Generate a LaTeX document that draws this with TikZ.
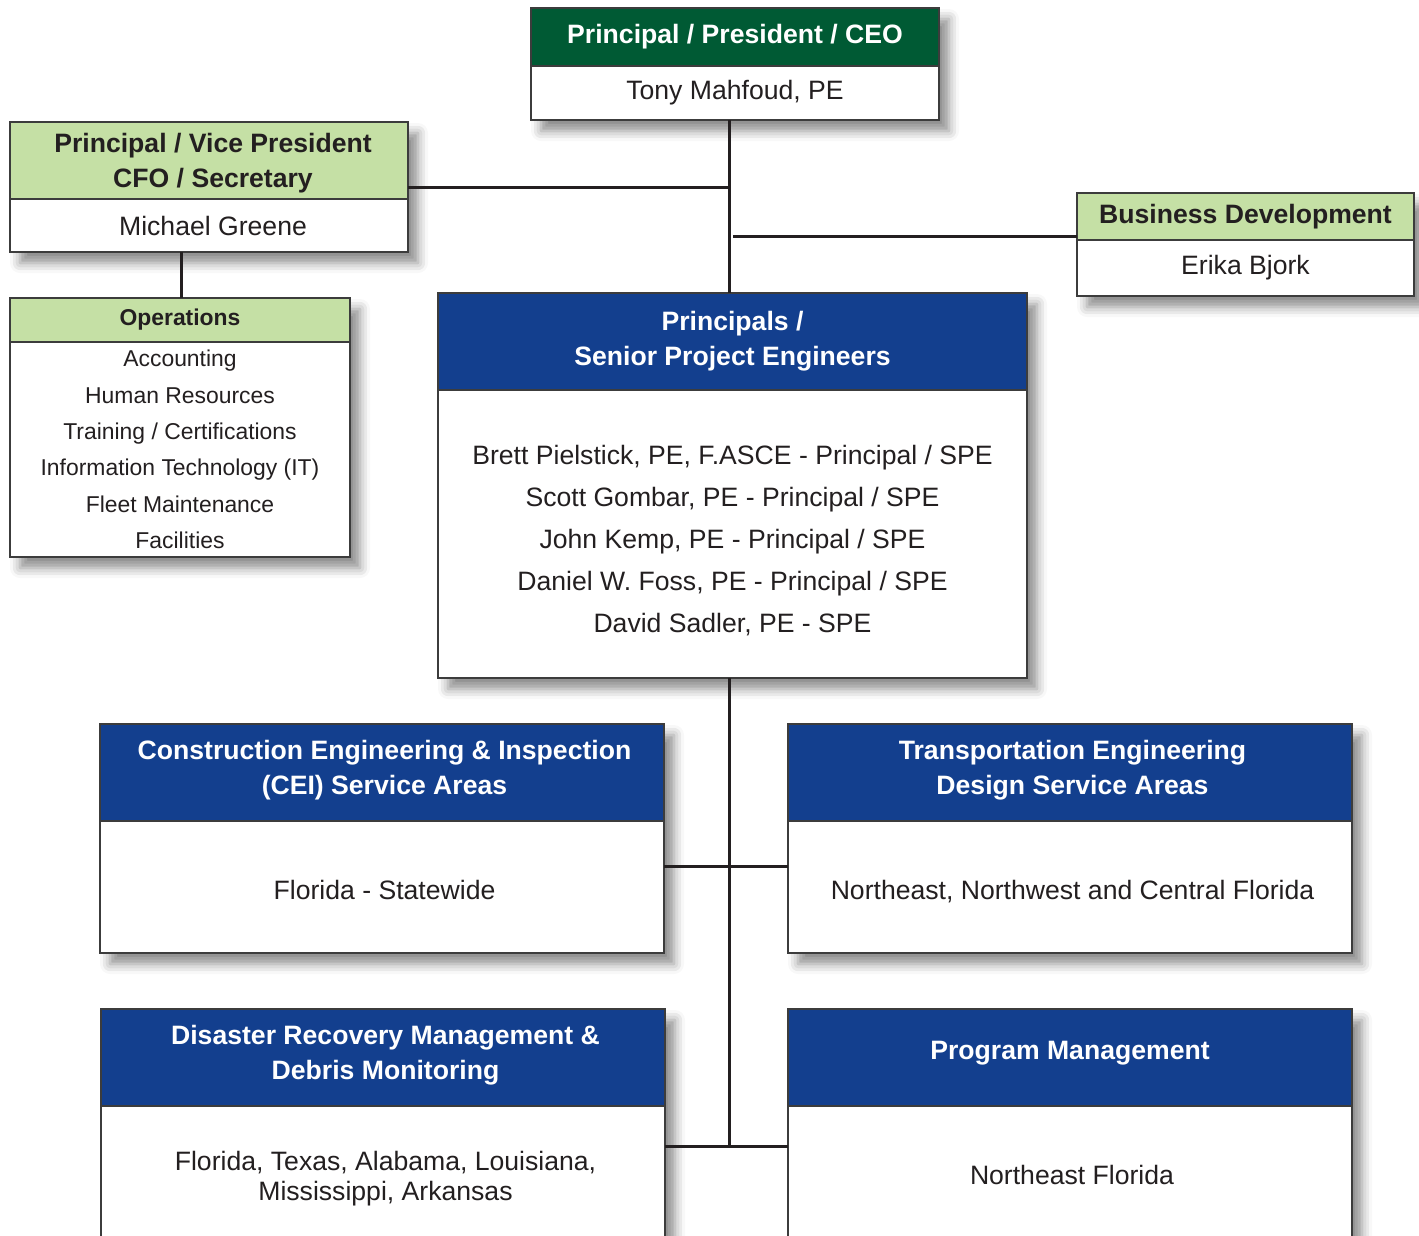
\documentclass[tikz,border=0pt]{standalone}
\usepackage{fontspec}
\setmainfont{Liberation Sans}
\usetikzlibrary{shadows.blur}
\definecolor{dkgreen}{RGB}{0,90,52}
\definecolor{ltgreen}{RGB}{197,224,165}
\definecolor{navy}{RGB}{19,63,142}
\definecolor{ink}{RGB}{35,31,32}
\definecolor{edgegrey}{RGB}{60,60,60}
\pgfdeclarelayer{bg}
\pgfsetlayers{bg,main}
\newcommand{\upstrut}[1]{\rule{0pt}{#1pt}}
\newcommand{\dnstrut}[1]{\rule[-#1pt]{0pt}{#1pt}}
\begin{document}
\begin{tikzpicture}[x=1pt,y=-1pt,
  box/.style={draw=edgegrey, line width=1.4pt, inner sep=0pt, outer sep=0pt,
    anchor=north west, align=center, text=ink, fill=white,
    font=\fontsize{26.6}{35}\selectfont},
  hdrdark/.style={box, fill=dkgreen, text=white, font=\fontsize{26.6}{35}\selectfont\bfseries},
  hdrlight/.style={box, fill=ltgreen, text=ink, font=\fontsize{26.6}{35}\selectfont\bfseries},
  hdrblue/.style={box, fill=navy, text=white, font=\fontsize{26.6}{35}\selectfont\bfseries},
  conn/.style={draw=ink, line width=3pt},
  shade/.style={fill=white, blur shadow={shadow xshift=10pt, shadow yshift=-11pt,
    shadow blur radius=10pt, shadow opacity=45}}
]
\useasboundingbox (0,0) rectangle (1419,1235);

% CEO
\node[hdrdark, minimum width=408, minimum height=58] (ceoH) at (531,8) {Principal / President / CEO};
\node[box, minimum width=408, minimum height=54] (ceoB) at (531,66) {Tony Mahfoud, PE};

% VP
\node[hdrlight, minimum width=398, minimum height=77] (vpH) at (10,122) {\upstrut{25.5}\hspace{8pt}Principal / Vice President\\\hspace{8pt}CFO / Secretary};
\node[box, minimum width=398, minimum height=53] (vpB) at (10,199) {\hspace{8pt}Michael Greene};

% Operations
\node[hdrlight, minimum width=340, minimum height=44, font=\fontsize{22.9}{30}\selectfont\bfseries] (opsH) at (10,298) {Operations};
\node[box, minimum width=340, minimum height=215, font=\fontsize{22.9}{36.4}\selectfont] (opsB) at (10,342)
  {Accounting\\Human Resources\\Training / Certifications\\Information Technology (IT)\\Fleet Maintenance\\Facilities};

% Business Development
\node[hdrlight, minimum width=337, minimum height=47] (bdH) at (1077,193) {Business Development};
\node[box, minimum width=337, minimum height=56] (bdB) at (1077,240) {Erika Bjork};

% Principals / SPE
\node[hdrblue, minimum width=589, minimum height=97] (spH) at (438,293) {Principals /\\Senior Project Engineers};
\node[box, minimum width=589, minimum height=288, font=\fontsize{26.6}{42}\selectfont] (spB) at (438,390)
  {\upstrut{31.5}Brett Pielstick, PE, F.ASCE - Principal / SPE\\Scott Gombar, PE - Principal / SPE\\John Kemp, PE - Principal / SPE\\Daniel W. Foss, PE - Principal / SPE\\David Sadler, PE - SPE};

% CEI
\node[hdrblue, minimum width=564, minimum height=97] (ceiH) at (100,724) {\hspace{5pt}Construction Engineering \& Inspection\\\hspace{5pt}(CEI) Service Areas\dnstrut{9.6}};
\node[box, minimum width=564, minimum height=132] (ceiB) at (100,821) {\upstrut{25}\hspace{5pt}Florida - Statewide};

% Transportation
\node[hdrblue, minimum width=564, minimum height=97] (trH) at (788,724) {\hspace{5pt}Transportation Engineering\\\hspace{5pt}Design Service Areas\dnstrut{9.6}};
\node[box, minimum width=564, minimum height=132] (trB) at (788,821) {\upstrut{29}\hspace{5pt}Northeast, Northwest and Central Florida};

% Disaster Recovery
\node[hdrblue, minimum width=564, minimum height=97] (drH) at (101,1009) {\hspace{5pt}Disaster Recovery Management \&\\\hspace{5pt}Debris Monitoring\dnstrut{9.6}};
\node[box, minimum width=564, minimum height=138, font=\fontsize{26.6}{30}\selectfont] (drB) at (101,1106) {\upstrut{25.5}\hspace{5pt}Florida, Texas, Alabama, Louisiana,\\\hspace{5pt}Mississippi, Arkansas};

% Program Management
\node[hdrblue, minimum width=564, minimum height=97] (pmH) at (788,1009) {Program Management\dnstrut{13.6}};
\node[box, minimum width=564, minimum height=138] (pmB) at (788,1106) {\hspace{4pt}Northeast Florida};

% shadows
\begin{pgfonlayer}{bg}
\foreach \h/\b in {ceoH/ceoB, vpH/vpB, opsH/opsB, bdH/bdB, spH/spB, ceiH/ceiB, trH/trB, drH/drB, pmH/pmB}
  \path[shade] (\h.north west) rectangle (\b.south east);
\end{pgfonlayer}

% connectors
\coordinate (spine) at (729,0);
\coordinate (vpj) at (729,187);
\coordinate (bdj) at (733,236);
\coordinate (j1) at (729,866);
\coordinate (j2) at (729,1146);
\draw[conn] (spine |- ceoB.south) -- (spine |- spH.north);
\draw[conn] (vpj -| vpH.east) -- (vpj);
\draw[conn] (bdj) -- (bdj -| bdH.west);
\draw[conn] (opsH.north -| 181,0) -- (vpB.south -| 181,0);
\draw[conn] (spine |- spB.south) -- (j2);
\draw[conn] (j1 -| ceiB.east) -- (j1 -| trB.west);
\draw[conn] (j2 -| drB.east) -- (j2 -| pmB.west);
\end{tikzpicture}
\end{document}
